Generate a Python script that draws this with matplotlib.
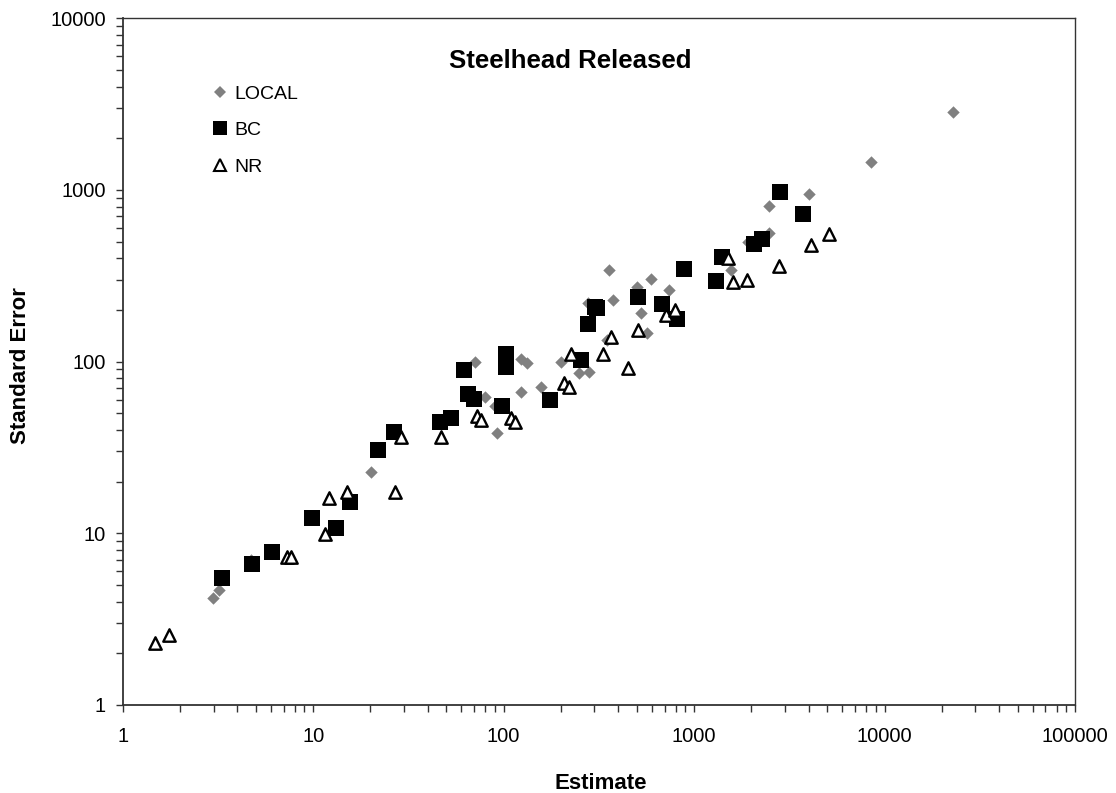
import matplotlib
matplotlib.use("Agg")
import matplotlib.pyplot as plt
from matplotlib.lines import Line2D
from matplotlib.ticker import FuncFormatter, LogLocator, NullFormatter

# ---------------- data ----------------
local_x = [2.99, 3.2, 4.72, 20.1, 70.8, 80.2, 90.6, 91.9, 123, 132, 123, 158, 200,
           249, 280, 278, 347, 357, 376, 499, 526, 567, 593, 740, 1560, 1923,
           2470, 2478, 4005, 8475, 22910]
local_y = [4.18, 4.67, 7.0, 22.9, 99.9, 61.9, 55.4, 38.2, 103, 97.8, 66.8, 71.4, 99.9,
           85.5, 87.4, 218, 133.6, 341.7, 228.6, 273, 191, 146, 301.5, 261, 341.7, 499,
           809, 559, 946, 1459, 2855]

bc_x = [3.33, 4.79, 6.1, 9.9, 13.2, 15.6, 22.0, 26.6, 46.3, 53.2, 62.1, 64.7, 70.1,
        97.6, 103, 103, 175, 255, 278, 301, 309, 509, 675, 815, 887, 1404, 1301,
        2068, 2278, 2821, 3738]
bc_y = [5.47, 6.6, 7.8, 12.3, 10.7, 15.2, 30.6, 38.9, 44.5, 46.9, 89.4, 64.5, 60.3,
        55.1, 110, 92.4, 59.8, 102, 165.6, 208.9, 204, 238.9, 215.7, 176.4, 344.8,
        405, 296, 484, 517.6, 968, 721]

nr_x = [1.48, 1.76, 7.26, 7.62, 11.5, 12.1, 15.0, 27.0, 28.8, 46.9, 72.1, 76.0,
        109, 115, 208, 220, 225, 332, 365, 452, 509, 714, 793, 1510, 1592, 1886,
        2787, 4103, 5101]
nr_y = [2.31, 2.56, 7.25, 7.25, 9.95, 16.0, 17.5, 17.5, 36.5, 36.5, 48.4, 45.7,
        46.7, 44.7, 74.7, 70.9, 110.3, 110.3, 139.6, 92.2, 152.8, 186.8, 199.7,
        399.6, 292, 298.7, 360.5, 478, 554]

series_names = ["LOCAL", "BC", "NR"]
title_text = "Steelhead Released"
x_label = "Estimate"
y_label = "Standard Error"

# ---------------- figure ----------------
W, H = 1116, 793
fig = plt.figure(figsize=(W / 100, H / 100), dpi=100)
ax_l, ax_r, ax_b, ax_t = 122.7, 1075.0, 705.0, 18.2
ax = fig.add_axes([ax_l / W, 1 - ax_b / H, (ax_r - ax_l) / W, (ax_b - ax_t) / H])

font = ["Liberation Sans", "DejaVu Sans"]

ax.set_xscale("log")
ax.set_yscale("log")
ax.set_xlim(1, 100000)
ax.set_ylim(1, 10000)

ax.scatter(local_x, local_y, marker="D", s=40, color="#808080", linewidths=0,
           zorder=3)
ax.scatter(bc_x, bc_y, marker="s", s=118, color="black", linewidths=0, zorder=4)
ax.scatter(nr_x, nr_y, marker="^", s=80, facecolors="white", edgecolors="black",
           linewidths=1.7, zorder=5)

fmt = FuncFormatter(lambda v, p: f"{v:.0f}")
ax.xaxis.set_major_formatter(fmt)
ax.yaxis.set_major_formatter(fmt)
ax.xaxis.set_minor_locator(LogLocator(base=10, subs=range(2, 10)))
ax.yaxis.set_minor_locator(LogLocator(base=10, subs=range(2, 10)))
ax.xaxis.set_minor_formatter(NullFormatter())
ax.yaxis.set_minor_formatter(NullFormatter())

ax.tick_params(axis="both", which="both", direction="out", length=5, width=1,
               color="#333333")
ax.tick_params(axis="x", which="major", pad=11, labelsize=14.5)
ax.tick_params(axis="y", which="major", pad=7, labelsize=14.5)
for lab in ax.get_xticklabels() + ax.get_yticklabels():
    lab.set_family(font)

for side in ["left", "bottom"]:
    ax.spines[side].set_color("#333333")
    ax.spines[side].set_linewidth(1.3)
for side in ["right", "top"]:
    ax.spines[side].set_color("#333333")
    ax.spines[side].set_linewidth(1.0)

# axis titles
fig.text(601 / W, 1 - 773 / H, x_label, ha="center", va="top", fontsize=16,
         fontweight="bold", family=font)
fig.text(20.5 / W, 1 - 366 / H, y_label, ha="center", va="center", rotation=90,
         fontsize=16, fontweight="bold", family=font)

# title
fig.text(570 / W, 1 - 61 / H, title_text, ha="center", va="center", fontsize=18.5,
         fontweight="bold", family=font)

# legend
handles = [
    Line2D([], [], marker="D", linestyle="none", markersize=6, color="#808080",
           markeredgewidth=0),
    Line2D([], [], marker="s", linestyle="none", markersize=10, color="black",
           markeredgewidth=0),
    Line2D([], [], marker="^", linestyle="none", markersize=8,
           markerfacecolor="white", markeredgecolor="black", markeredgewidth=1.5),
]
leg = ax.legend(handles, series_names, loc="upper left",
                bbox_to_anchor=((210 - ax_l) / (ax_r - ax_l), (ax_b - 85) / (ax_b - ax_t)),
                frameon=False, handlelength=1.0, handletextpad=0.25, labelspacing=0.98,
                borderpad=0, borderaxespad=0, prop={"family": font, "size": 14})

fig.savefig("out.png", dpi=100)
